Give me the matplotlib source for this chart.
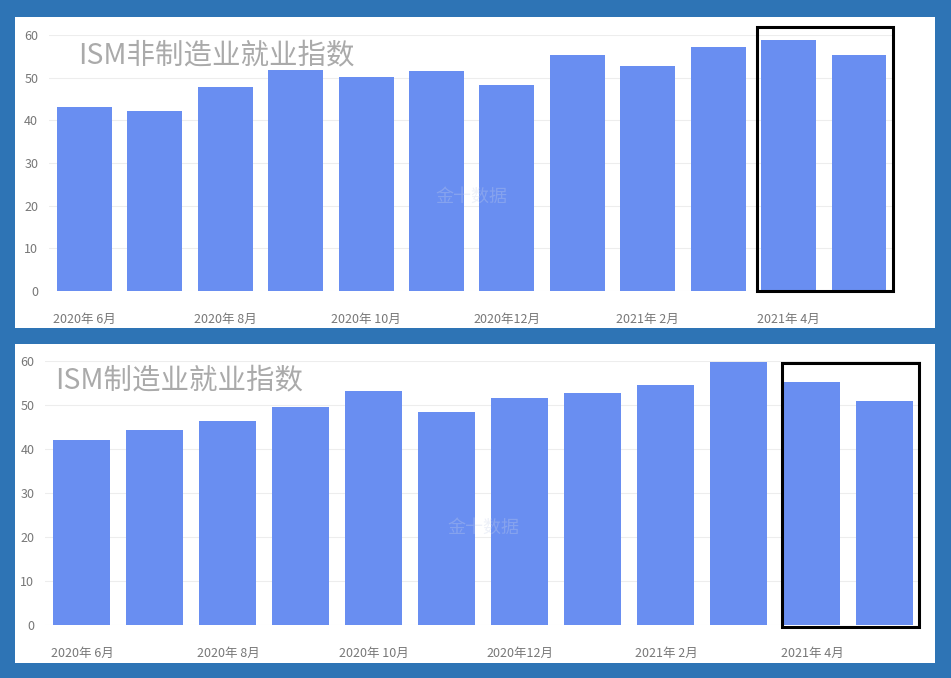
import matplotlib.pyplot as plt
from matplotlib.patches import Rectangle

plt.rcParams['font.family'] = ['Noto Sans CJK SC', 'DejaVu Sans']

months = ["2020-06", "2020-07", "2020-08", "2020-09", "2020-10", "2020-11",
          "2020-12", "2021-01", "2021-02", "2021-03", "2021-04", "2021-05"]
tick_labels = ["2020年 6月", "2020年 8月", "2020年 10月", "2020年12月", "2021年 2月", "2021年 4月"]
non_mfg = [43.1, 42.1, 47.9, 51.8, 50.1, 51.5, 48.2, 55.2, 52.7, 57.2, 58.8, 55.3]
mfg = [42.1, 44.3, 46.4, 49.6, 53.2, 48.4, 51.5, 52.6, 54.4, 59.6, 55.1, 50.9]

BG = '#2e74b5'
BAR = '#698ef1'

fig = plt.figure(figsize=(9.51, 6.78), dpi=100, facecolor=BG)

# white panels behind each chart
for y0, h in [(0.5162, 0.4587), (0.0221, 0.4705)]:
    fig.patches.append(Rectangle((0.0158, y0), 0.9674, h, transform=fig.transFigure,
                                 facecolor='white', edgecolor='none', zorder=-10))

panels = [
    (non_mfg, "ISM非制造业就业指数", [0.0518, 0.5708, 0.8885, 0.3776], (0.034, 0.92),
     (9.55, 11.48, -0.1, 61.8)),
    (mfg, "ISM制造业就业指数", [0.0478, 0.0782, 0.9211, 0.3898], (0.011, 0.927),
     (9.59, 11.47, -0.45, 59.5)),
]

for values, title, pos, tpos, box in panels:
    ax = fig.add_axes(pos)
    ax.set_zorder(1)
    ax.set_facecolor('none')
    x = range(len(months))
    ax.bar(x, values, width=0.78, color=BAR, zorder=2)
    ax.set_xlim(-0.5, len(months) - 0.5)
    ax.set_ylim(0, 60)
    ax.set_yticks(range(0, 61, 10))
    ax.set_xticks(range(0, len(months), 2))
    ax.set_xticklabels(tick_labels)
    ax.grid(axis='y', color='#ededed', linewidth=0.8, zorder=0)
    for s in ax.spines.values():
        s.set_visible(False)
    ax.tick_params(axis='both', length=0, colors='#777777', labelsize=9)
    ax.tick_params(axis='x', pad=16)
    ax.tick_params(axis='y', pad=8)

    ax.text(tpos[0], tpos[1], title, transform=ax.transAxes, fontsize=20.5,
            color='#aaaaaa', va='center', ha='left', zorder=3)
    # faint watermark
    ax.text(0.5, 0.37, "金十数据", transform=ax.transAxes, fontsize=13,
            color='#c8d2ea', alpha=0.3, ha='center', va='center', zorder=3)

    x0, x1, y0, y1 = box
    ax.add_patch(Rectangle((x0, y0), x1 - x0, y1 - y0, fill=False, edgecolor='black',
                           linewidth=2.2, clip_on=False, zorder=4))

fig.savefig('out.png', dpi=100, facecolor=BG)
